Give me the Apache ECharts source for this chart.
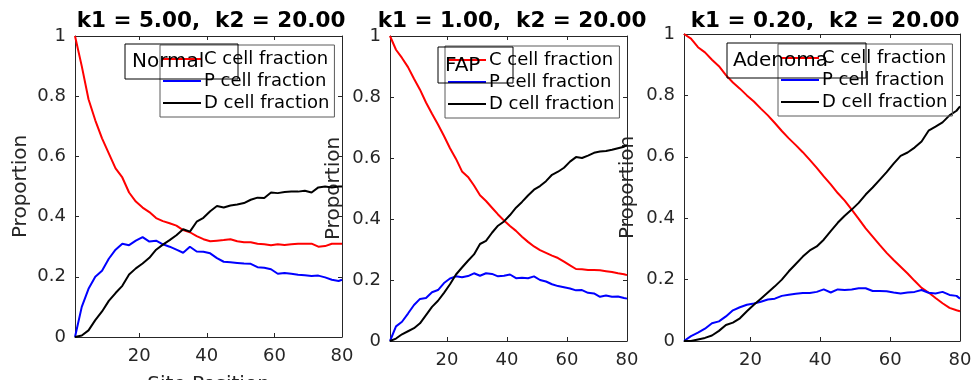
<!DOCTYPE html>
<html>
<head>
<meta charset="utf-8">
<script src="https://cdn.jsdelivr.net/npm/echarts@6/dist/echarts.min.js"></script>
<style>
html,body{margin:0;padding:0;background:#fff;}
#chart{width:972px;height:380px;}
</style>
</head>
<body>
<div id="chart"></div>
<script>
const sites = [1,3,5,7,9,11,13,15,17,19,21,23,25,27,29,31,33,35,37,39,41,43,45,47,49,51,53,55,57,59,61,63,65,67,69,71,73,75,77,79,80];

const normalC = [1.0,0.90,0.79,0.72,0.66,0.61,0.56,0.53,0.48,0.45,0.43,0.415,0.395,0.385,0.378,0.37,0.355,0.348,0.335,0.325,0.318,0.32,0.322,0.325,0.318,0.315,0.315,0.31,0.308,0.305,0.308,0.306,0.308,0.31,0.31,0.31,0.30,0.302,0.31,0.31,0.31];
const normalP = [0,0.10,0.16,0.20,0.22,0.26,0.29,0.31,0.305,0.32,0.332,0.317,0.32,0.308,0.30,0.29,0.28,0.30,0.284,0.283,0.278,0.262,0.25,0.248,0.246,0.244,0.243,0.232,0.23,0.225,0.21,0.213,0.21,0.207,0.205,0.203,0.204,0.198,0.19,0.186,0.19];
const normalD = [0,0.005,0.022,0.056,0.085,0.12,0.146,0.17,0.208,0.228,0.244,0.263,0.29,0.307,0.322,0.338,0.358,0.35,0.383,0.396,0.418,0.435,0.43,0.437,0.44,0.445,0.456,0.463,0.462,0.48,0.478,0.482,0.483,0.483,0.486,0.48,0.497,0.5,0.497,0.5,0.5];

const fapC = [1.0,0.955,0.928,0.898,0.86,0.824,0.782,0.745,0.71,0.672,0.632,0.597,0.556,0.538,0.51,0.478,0.459,0.437,0.415,0.395,0.377,0.361,0.342,0.325,0.31,0.298,0.289,0.28,0.272,0.26,0.248,0.236,0.235,0.233,0.233,0.232,0.229,0.226,0.222,0.219,0.216];
const fapP = [0,0.048,0.063,0.09,0.118,0.138,0.141,0.16,0.167,0.19,0.205,0.212,0.209,0.213,0.222,0.214,0.222,0.22,0.212,0.214,0.218,0.206,0.207,0.206,0.212,0.2,0.195,0.186,0.18,0.176,0.172,0.166,0.167,0.158,0.156,0.145,0.149,0.145,0.146,0.141,0.139];
const fapD = [0,0.008,0.022,0.032,0.042,0.058,0.085,0.112,0.132,0.158,0.186,0.218,0.241,0.263,0.284,0.318,0.328,0.355,0.378,0.392,0.413,0.437,0.456,0.477,0.496,0.508,0.524,0.545,0.555,0.568,0.588,0.603,0.6,0.608,0.617,0.621,0.623,0.627,0.632,0.637,0.642];

const adenomaC = [1.0,0.985,0.957,0.94,0.916,0.895,0.866,0.842,0.822,0.8,0.78,0.757,0.735,0.71,0.684,0.66,0.638,0.615,0.59,0.564,0.536,0.51,0.482,0.457,0.428,0.398,0.367,0.34,0.313,0.287,0.264,0.242,0.22,0.196,0.173,0.158,0.14,0.123,0.108,0.1,0.097];
const adenomaP = [0,0.016,0.027,0.04,0.058,0.064,0.08,0.1,0.11,0.118,0.122,0.128,0.135,0.138,0.147,0.151,0.154,0.156,0.156,0.16,0.168,0.158,0.168,0.166,0.168,0.172,0.172,0.163,0.163,0.162,0.158,0.155,0.158,0.16,0.166,0.157,0.155,0.16,0.15,0.147,0.138];
const adenomaD = [0,0,0.005,0.01,0.018,0.033,0.052,0.06,0.074,0.097,0.118,0.138,0.158,0.178,0.2,0.227,0.251,0.275,0.295,0.308,0.33,0.358,0.385,0.408,0.428,0.45,0.477,0.5,0.525,0.55,0.578,0.603,0.614,0.63,0.65,0.685,0.698,0.712,0.735,0.75,0.764];

const xTicks = [20,40,60,80];
const xTopTicks = [20,40,60];
const seriesNames = ['C cell fraction','P cell fraction','D cell fraction'];
const seriesColors = ['#ff0000','#0000ff','#000000'];
const panelTitles = ['k1 = 5.00,  k2 = 20.00','k1 = 1.00,  k2 = 20.00','k1 = 0.20,  k2 = 20.00'];
const panelLabels = ['Normal','FAP','Adenoma'];
const yName = 'Proportion';
const xName = 'Site Position';

const panelData = [[normalC,normalP,normalD],[fapC,fapP,fapD],[adenomaC,adenomaP,adenomaD]];

// layout
const grids = [
  {left:75, top:36, width:267, height:301},
  {left:390, top:36, width:237, height:305},
  {left:684, top:34, width:276, height:307}
];
const titleCenters = [206, 507, 820];
const legendPos = [{left:160, top:45},{left:445, top:46},{left:778, top:44}];
const boxes = [
  {x:125, y:44, w:113, h:35, tx:132},
  {x:438, y:47, w:75, h:36, tx:445},
  {x:727, y:43, w:139, h:35, tx:733}
];

const FONT = 'DejaVu Sans';
const AXC = '#262626';

const xAxes = [], yAxes = [], series = [], titles = [], legends = [], graphics = [];
grids.forEach((g, i) => {
  xAxes.push({
    type:'value', gridIndex:i, min:1, max:80, position:'bottom',
    name: i === 0 ? xName : '', nameLocation:'middle', nameGap:38,
    nameTextStyle:{fontFamily:FONT, fontSize:20, color:AXC},
    axisLine:{show:true, onZero:false, lineStyle:{color:AXC, width:1}},
    axisTick:{show:true, inside:true, length:4, customValues:xTicks, lineStyle:{color:AXC}},
    axisLabel:{show:true, customValues:xTicks, margin:10, fontFamily:FONT, fontSize:18, color:AXC},
    splitLine:{show:false}
  });
  xAxes.push({
    type:'value', gridIndex:i, min:1, max:80, position:'top',
    axisLine:{show:true, onZero:false, lineStyle:{color:AXC, width:1}},
    axisTick:{show:true, inside:true, length:4, customValues:xTopTicks, lineStyle:{color:AXC}},
    axisLabel:{show:false},
    splitLine:{show:false}
  });
  yAxes.push({
    type:'value', gridIndex:i, min:0, max:1, interval:0.2, position:'left',
    name:yName, nameLocation:'middle', nameGap: i === 0 ? 44 : 46, nameRotate:90,
    nameTextStyle:{fontFamily:FONT, fontSize:20, color:AXC},
    axisLine:{show:true, onZero:false, lineStyle:{color:AXC, width:1}},
    axisTick:{show:true, inside:true, length:4, lineStyle:{color:AXC}},
    axisLabel:{show:true, margin:9, fontFamily:FONT, fontSize:18, color:AXC},
    splitLine:{show:false}
  });
  yAxes.push({
    type:'value', gridIndex:i, min:0, max:1, interval:0.2, position:'right',
    axisLine:{show:true, onZero:false, lineStyle:{color:AXC, width:1}},
    axisTick:{show:true, inside:true, length:4, lineStyle:{color:AXC}},
    axisLabel:{show:false},
    splitLine:{show:false}
  });
  panelData[i].forEach((vals, k) => {
    series.push({
      name: seriesNames[k], type:'line', xAxisIndex:i*2, yAxisIndex:i*2,
      data: sites.map((s, j) => [s, vals[j]]),
      showSymbol:false, symbol:'none', smooth:false,
      lineStyle:{color:seriesColors[k], width:2},
      itemStyle:{color:seriesColors[k]},
      z: 3
    });
  });
  titles.push({
    text: panelTitles[i], left: titleCenters[i], top: 5, textAlign:'center',
    textStyle:{fontFamily:FONT, fontSize:21.5, fontWeight:'bold', color:'#000'}
  });
  legends.push({
    show:true, orient:'vertical', left:legendPos[i].left, top:legendPos[i].top,
    data: seriesNames.map((n, k) => ({name:n, icon:'rect', itemStyle:{color:seriesColors[k]}})),
    itemWidth:38, itemHeight:2, itemGap:4, padding:[5,5,5,3],
    borderColor:'#5a5a5a', borderWidth:1, backgroundColor:'transparent',
    selectedMode:false,
    textStyle:{fontFamily:FONT, fontSize:18, color:'#000', padding:[0,0,0,-2]}
  });
  const b = boxes[i];
  graphics.push({
    type:'rect', shape:{x:b.x, y:b.y, width:b.w, height:b.h},
    style:{fill:'none', stroke:'#000', lineWidth:1}, z:10
  });
  graphics.push({
    type:'text', x:b.tx, y:b.y + b.h/2 + 0.5,
    style:{text:panelLabels[i], fontFamily:FONT, fontSize:20, fill:'#000', verticalAlign:'middle', align:'left'},
    z:9
  });
});

const chart = echarts.init(document.getElementById('chart'), null, {renderer:'canvas'});
chart.setOption({
  animation:false,
  backgroundColor:'#fff',
  title: titles,
  legend: legends,
  grid: grids.map(g => Object.assign({containLabel:false, outerBoundsMode:'none'}, g)),
  xAxis: xAxes,
  yAxis: yAxes,
  series: series,
  graphic: graphics
});
</script>
</body>
</html>
